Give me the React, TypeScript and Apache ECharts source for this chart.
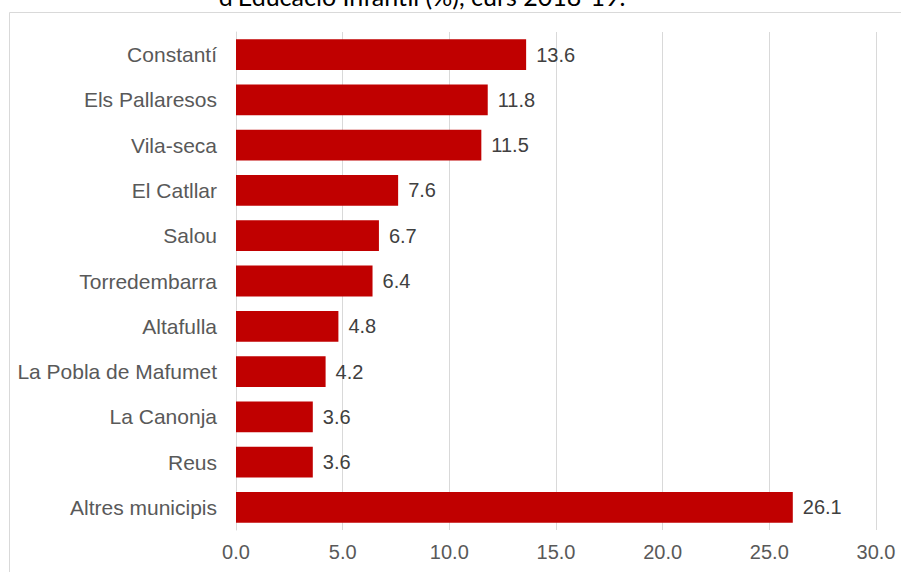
import React, { useEffect, useRef } from "react";
import * as echarts from "echarts";

const categories = [
  "Constantí",
  "Els Pallaresos",
  "Vila-seca",
  "El Catllar",
  "Salou",
  "Torredembarra",
  "Altafulla",
  "La Pobla de Mafumet",
  "La Canonja",
  "Reus",
  "Altres municipis",
];
const values = [13.6, 11.8, 11.5, 7.6, 6.7, 6.4, 4.8, 4.2, 3.6, 3.6, 26.1];
const titleText = "d'Educació Infantil (%), curs 2018-19.";

export default function App() {
  const ref = useRef<HTMLDivElement>(null);
  useEffect(() => {
    if (!ref.current) return;
    const chart = echarts.init(ref.current, null, { renderer: "svg" });
    chart.setOption({
      animation: false,
      backgroundColor: "#ffffff",
      graphic: [
        {
          type: "rect",
          shape: { x: 9.5, y: 12.5, width: 1000, height: 1000 },
          style: { fill: "none", stroke: "#d9d9d9", lineWidth: 1 },
          silent: true,
        },
        {
          type: "text",
          x: 422,
          y: 8,
          style: {
            text: titleText,
            fontFamily: "Lato",
            fontSize: 25,
            fill: "#000000",
            align: "center",
            verticalAlign: "bottom",
          },
          silent: true,
        },
      ],
      grid: { left: 236, right: 25, top: 32, bottom: 42, containLabel: false },
      xAxis: {
        type: "value",
        min: 0,
        max: 30,
        interval: 5,
        axisLine: { show: false },
        axisTick: { show: false },
        axisLabel: {
          formatter: (v: number) => v.toFixed(1),
          fontFamily: "Liberation Sans",
          fontSize: 20,
          color: "#595959",
          margin: 12,
        },
        splitLine: { show: true, lineStyle: { color: "#d9d9d9", width: 1 } },
      },
      yAxis: {
        type: "category",
        data: categories,
        inverse: true,
        axisLine: { show: true, lineStyle: { color: "#d9d9d9", width: 1 } },
        axisTick: { show: false },
        axisLabel: {
          fontFamily: "Liberation Sans",
          fontSize: 21,
          color: "#595959",
          margin: 19,
        },
      },
      series: [
        {
          type: "bar",
          data: values,
          barWidth: "68%",
          itemStyle: { color: "#C00000" },
          label: {
            show: true,
            position: "right",
            distance: 10,
            formatter: (p: any) => Number(p.value).toFixed(1),
            fontFamily: "Liberation Sans",
            fontSize: 20,
            color: "#404040",
          },
        },
      ],
    });
    return () => chart.dispose();
  }, []);
  return (
    <div
      ref={ref}
      style={{ position: "absolute", left: 0, top: 0, width: 901, height: 572 }}
    />
  );
}
